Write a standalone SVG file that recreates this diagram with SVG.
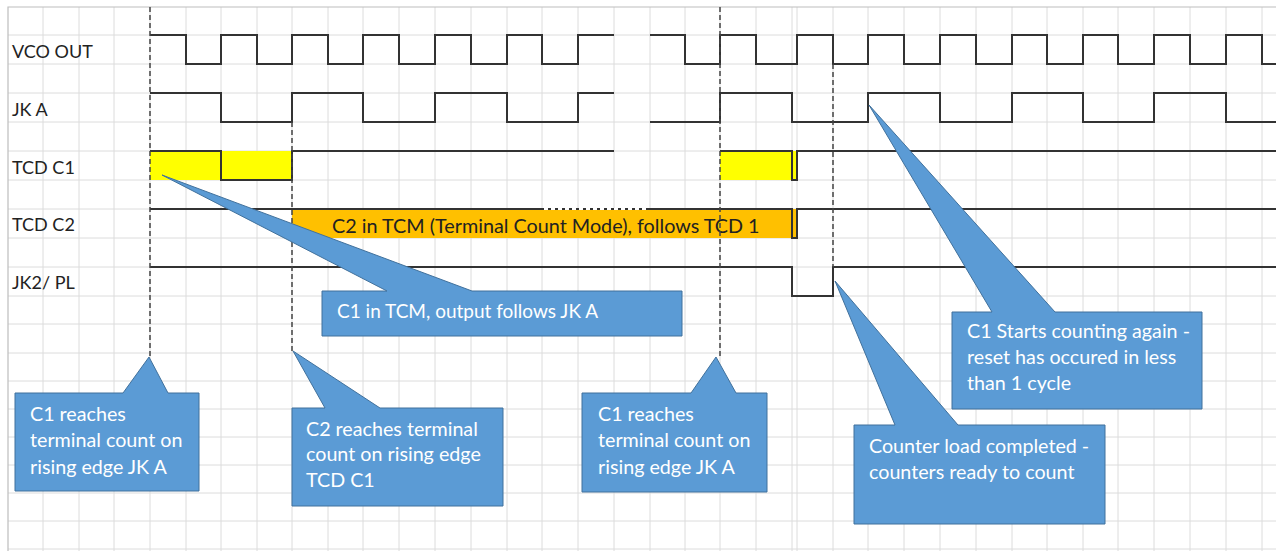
<svg xmlns="http://www.w3.org/2000/svg" width="1279" height="551" viewBox="0 0 1279 551">
<style>
.grid{stroke:#DCDCDC;stroke-width:1;fill:none}
.border{stroke:#BDBDBD;stroke-width:1.2;fill:none}
.sig{stroke:#333;stroke-width:2;fill:none;stroke-linejoin:miter}
.dash{stroke:#444;stroke-width:1.5;stroke-dasharray:5 3;fill:none}
.lbl{font-family:Lato,"Liberation Sans",sans-serif;font-size:18px;fill:#222}
.call{fill:#5B9BD5;stroke:#41719C;stroke-width:1}
.ct{font-family:Lato,"Liberation Sans",sans-serif;font-size:19.7px;fill:#FFFFFF}
.ct6{font-family:Lato,"Liberation Sans",sans-serif;font-size:19px;fill:#FFFFFF}
.ot{font-family:Lato,"Liberation Sans",sans-serif;font-size:19.8px;fill:#222}
</style>
<rect x="0" y="0" width="1279" height="551" fill="#FFFFFF"/>
<g id="grid">
<path class="grid" d="M43,7V551M79,7V551M114,7V551M150,7V551M186,7V551M221,7V551M257,7V551M292,7V551M328,7V551M363,7V551M399,7V551M435,7V551M471,7V551M507,7V551M542,7V551M578,7V551M614,7V551M650,7V551M685,7V551M720,7V551M756,7V551M792,7V551M797,7V551M833,7V551M868,7V551M904,7V551M940,7V551M976,7V551M1012,7V551M1047,7V551M1083,7V551M1118,7V551M1154,7V551M1190,7V551M1226,7V551M1262,7V551"/>
<path class="grid" d="M8,35H1276M8,64H1276M8,93H1276M8,122H1276M8,151H1276M8,180H1276M8,209H1276M8,238H1276M8,267H1276M8,296H1276M8,324H1276M8,353H1276M8,381H1276M8,409H1276M8,437H1276M8,465H1276M8,493H1276M8,521H1276M8,549H1276"/>
<path class="border" d="M8,551V7H1276"/>
</g>
<g id="labels">
<text class="lbl" x="12" y="58">VCO OUT</text>
<text class="lbl" x="12" y="116">JK A</text>
<text class="lbl" x="12" y="174">TCD C1</text>
<text class="lbl" x="12" y="231">TCD C2</text>
<text class="lbl" x="12" y="289">JK2/ PL</text>
</g>
<g id="signals">
<g id="vco-out">
<path class="sig" d="M150,35H186V64H221V35H257V64H292V35H328V64H363V35H399V64H435V35H471V64H507V35H542V64H578V35H614"/>
<path class="sig" d="M650,35H685V64H720V35H756V64H797V35H833V64H868V35H904V64H940V35H976V64H1012V35H1047V64H1083V35H1118V64H1154V35H1190V64H1226V35H1262V64H1276"/>
</g>
<g id="jk-a">
<path class="sig" d="M150,93H221V122H292V93H363V122H435V93H507V122H578V93H614"/>
<path class="sig" d="M650,122H720V93H792V122H868V93H940V122H1012V93H1083V122H1154V93H1226V122H1276"/>
</g>
<g id="tcd-c1">
<rect x="150" y="151" width="142" height="29" fill="#FFFF00"/>
<rect x="720" y="151" width="77" height="29" fill="#FFFF00"/>
<path class="sig" d="M150,151H221V180H292V151H614"/>
<path class="sig" d="M720,151H792V180H797V151H1276"/>
</g>
<g id="tcd-c2">
<rect x="292" y="209" width="505" height="29" fill="#FFC000"/>
<path class="sig" d="M150,209H792V238H797V209H1276"/>
<path d="M544,209H647" stroke="#FFFFFF" stroke-width="2" stroke-dasharray="4 3" fill="none"/>
<text class="ot" x="332" y="233">C2 in TCM (Terminal Count Mode), follows TCD 1</text>
</g>
<g id="jk2-pl">
<path class="sig" d="M150,267H792V296H833V267H1276"/>
</g>
</g>
<g id="connectors">
<path class="dash" d="M150,7V357"/>
<path class="dash" d="M292,122V351"/>
<path class="dash" d="M720,7V357"/>
<path class="dash" d="M833,64V267"/>
</g>
<g id="callout-c1-tcm">
<polygon class="call" points="322,291 387,291 162,175 472,291 682,291 682,336 322,336"/>
<text class="ct6" x="337" y="318">C1 in TCM, output follows JK A</text>
</g>
<g id="callout-c1-reaches-1">
<polygon class="call" points="15,393 123,393 149,357 168,393 199,393 199,491 15,491"/>
<text class="ct" x="30" y="421">C1 reaches</text>
<text class="ct" x="30" y="447">terminal count on</text>
<text class="ct" x="30" y="474">rising edge JK A</text>
</g>
<g id="callout-c2-reaches">
<polygon class="call" points="292,408 325,408 293,351 380,408 503,408 503,506 292,506"/>
<text class="ct" x="306" y="436">C2 reaches terminal</text>
<text class="ct" x="306" y="461">count on rising edge</text>
<text class="ct" x="306" y="487">TCD C1</text>
</g>
<g id="callout-c1-reaches-2">
<polygon class="call" points="582,393 691,393 716,357 736,393 767,393 767,492 582,492"/>
<text class="ct" x="598" y="421">C1 reaches</text>
<text class="ct" x="598" y="447">terminal count on</text>
<text class="ct" x="598" y="474">rising edge JK A</text>
</g>
<g id="callout-c1-starts">
<polygon class="call" points="952,312 992,312 869,105 1055,312 1202,312 1202,409 952,409"/>
<text class="ct" x="967" y="338">C1 Starts counting again -</text>
<text class="ct" x="967" y="364">reset has occured in less</text>
<text class="ct" x="967" y="390">than 1 cycle</text>
</g>
<g id="callout-load-completed">
<polygon class="call" points="854,425 895,425 835,281 958,425 1105,425 1105,524 854,524"/>
<text class="ct" x="869" y="453">Counter load completed -</text>
<text class="ct" x="869" y="479">counters ready to count</text>
</g>
</svg>
